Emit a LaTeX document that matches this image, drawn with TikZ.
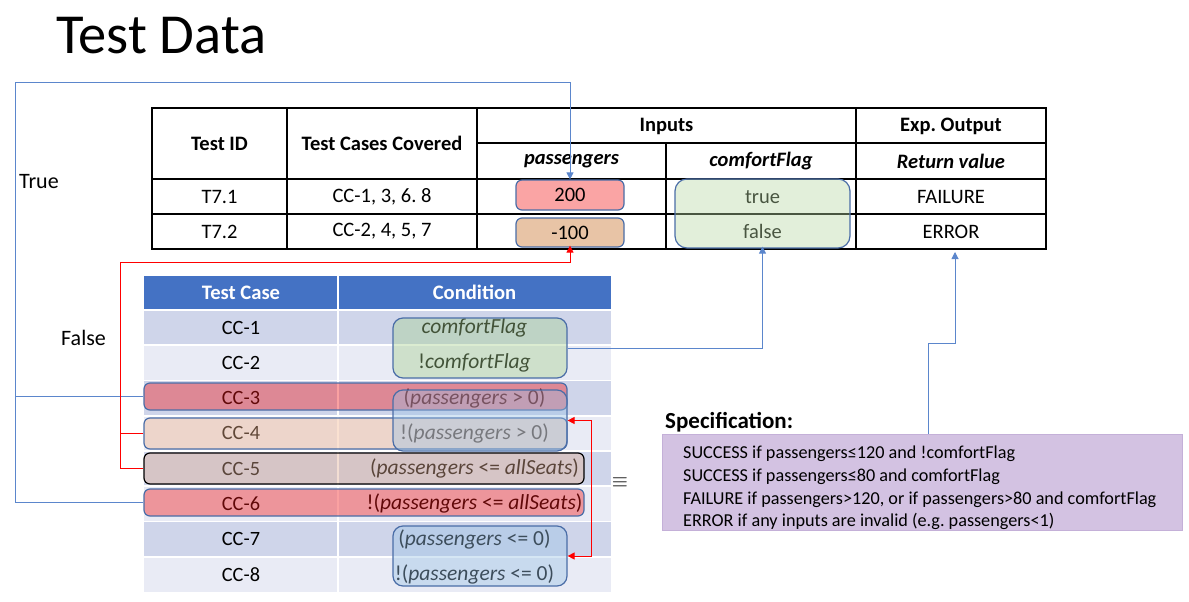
\documentclass[tikz,border=0pt]{standalone}
\usepackage{fontspec}
\setmainfont{Carlito}
\usetikzlibrary{arrows.meta}
\definecolor{hdrblue}{HTML}{4472C4}
\definecolor{rowdark}{HTML}{CFD5EA}
\definecolor{rowlight}{HTML}{E9EBF5}
\definecolor{edgeblue}{HTML}{4A6DA7}
\definecolor{connblue}{HTML}{5B86CC}
\definecolor{pinkin}{HTML}{FAA4A4}
\definecolor{tanin}{HTML}{E8C4A6}
\definecolor{greenov}{HTML}{A6D08E}
\definecolor{greentop}{HTML}{B7D7A3}
\definecolor{redov}{HTML}{F41616}
\definecolor{peachov}{HTML}{F3B48C}
\definecolor{brownov}{HTML}{E2AE92}
\definecolor{blueov}{HTML}{98C1E5}
\definecolor{specfill}{HTML}{D3C2E2}
\definecolor{specedge}{HTML}{C4B0D8}
\definecolor{redline}{HTML}{FF0000}
\newcommand\fsz[2]{\fontsize{#1}{#2}\selectfont}
\frenchspacing
\begin{document}
\begin{tikzpicture}[x=1pt,y=-1pt,
  tbl/.style={line width=1.3pt, draw=black},
  txt/.style={inner sep=0, font=\fsz{20.5}{24}},
  btxt/.style={inner sep=0, font=\fsz{20.5}{24}\bfseries},
  ctxt/.style={inner sep=0, font=\fsz{20.3}{24}},
  condtxt/.style={inner sep=0, font=\fsz{21.5}{24}},
  hdr/.style={inner sep=0, font=\fsz{20.6}{24}\bfseries, text=white},
  valbox/.style={draw=edgeblue, line width=1.2pt, rounded corners=6pt, inner sep=0, font=\fsz{20.5}{24}},
  ovl/.style={draw=edgeblue, line width=1.2pt, rounded corners=6pt, fill opacity=0.4, inner sep=0},
  conn/.style={draw=connblue, line width=1pt},
  redconn/.style={draw=redline, line width=1pt},
  arrowend/.style={-{Triangle[width=7pt,length=7pt]}},
  side/.style={inner sep=0, font=\fsz{22}{26}, anchor=west}
]
\useasboundingbox (0,0) rectangle (1189,602);

% title
\node[inner sep=0, anchor=base west, font=\fsz{56.5}{60}] (title) at (56,54) {Test Data};

% ---------- top table ----------
\node[btxt] (hID) at (219.5,143.5) {Test ID};
\node[btxt] (hTCC) at (382,143.5) {Test Cases Covered};
\node[btxt] (hIn) at (666.5,126) {Inputs};
\node[btxt] (hOut) at (951,126) {Exp. Output};
\node[btxt] (hP) at (571.5,161) {\textit{passengers}};
\node[btxt] (hCF) at (761,161) {\textit{comfortFlag}};
\node[btxt] (hRV) at (951,161) {\textit{Return value}};

\node[txt] (id1) at (219.5,197) {T7.1};
\node[txt] (cov1) at (382,197) {CC-1, 3, 6. 8};
\node[txt] (tru) at (762.5,197) {true};
\node[txt] (out1) at (951,197) {FAILURE};
\node[txt] (id2) at (219.5,231.5) {T7.2};
\node[txt] (cov2) at (382,231.5) {CC-2, 4, 5, 7};
\node[txt] (fal) at (762.5,231.5) {false};
\node[txt] (out2) at (951,231.5) {ERROR};

\draw[tbl] (152,108) rectangle (1046,249);
\draw[tbl] (477,143) -- (1046,143);
\draw[tbl] (152,179) -- (1046,179);
\draw[tbl] (152,214) -- (1046,214);
\draw[tbl] (287,108) -- (287,249);
\draw[tbl] (477,108) -- (477,249);
\draw[tbl] (856,108) -- (856,249);
\draw[tbl] (666,143) -- (666,249);

\node[valbox, fill=pinkin, minimum width=108, minimum height=30] (v200) at (570,195) {200};
\node[valbox, fill=tanin, minimum width=108, minimum height=29] (vm100) at (570,232.5) {-100};
\node[ovl, fill=greentop, rounded corners=12pt, minimum width=175, minimum height=69] (gtop) at (762.5,213.5) {};

% ---------- bottom table ----------
\fill[hdrblue] (144,276) rectangle (611,309);
\foreach \i in {1,...,8}{
  \pgfmathsetmacro{\ya}{310+35.25*(\i-1)}
  \pgfmathsetmacro{\yb}{\ya+35.25}
  \ifodd\i \def\rc{rowdark}\else\def\rc{rowlight}\fi
  \fill[\rc] (144,\ya) rectangle (611,\yb);
}
\foreach \i in {1,...,8}{
  \pgfmathsetmacro{\ya}{310+35.25*(\i-1)}
  \draw[white, line width=1.6pt] (144,\ya) -- (611,\ya);
}
\draw[white, line width=1.6pt] (338,276) -- (338,592);

\node[hdr] (hTC) at (241,292.5) {Test Case};
\node[hdr] (hCond) at (474.5,292.5) {Condition};

\node[ctxt] (tc1) at (241,327.6) {CC-1};
\node[ctxt] (tc2) at (241,362.9) {CC-2};
\node[ctxt] (tc3) at (241,398.1) {CC-3};
\node[ctxt] (tc4) at (241,433.4) {CC-4};
\node[ctxt] (tc5) at (241,468.6) {CC-5};
\node[ctxt] (tc6) at (241,503.9) {CC-6};
\node[ctxt] (tc7) at (241,539.1) {CC-7};
\node[ctxt] (tc8) at (241,574.4) {CC-8};

\node[condtxt] (cd1) at (474.5,327.6) {\textit{comfortFlag}};
\node[condtxt] (cd2) at (474.5,362.9) {!\textit{comfortFlag}};
\node[condtxt] (cd3) at (474.5,398.1) {(\textit{passengers} > 0)};
\node[condtxt] (cd4) at (474.5,433.4) {!(\textit{passengers} > 0)};
\node[condtxt] (cd5) at (474.5,468.6) {(\textit{passengers} <= \textit{allSeats})};
\node[condtxt] (cd6) at (474.5,503.9) {!(\textit{passengers} <= \textit{allSeats})};
\node[condtxt] (cd7) at (474.5,539.1) {(\textit{passengers} <= 0)};
\node[condtxt] (cd8) at (474.5,574.4) {!(\textit{passengers} <= 0)};

% overlays
\node[ovl, fill=redov, minimum width=423, minimum height=27] (cc3) at (355.5,396.5) {};
\node[ovl, fill=peachov, minimum width=423, minimum height=31] (cc4) at (355.5,433.5) {};
\node[ovl, fill=brownov, draw=black, minimum width=440, minimum height=31] (cc5) at (364,468.5) {};
\node[ovl, fill=redov, minimum width=440, minimum height=27] (cc6) at (364,502.5) {};
\node[ovl, fill=greenov, rounded corners=10pt, minimum width=174, minimum height=60] (gbox) at (480,348) {};
\node[ovl, fill=blueov, rounded corners=10pt, minimum width=174, minimum height=61] (pb) at (480,420.5) {};
\node[ovl, fill=blueov, rounded corners=10pt, minimum width=174, minimum height=60] (pc) at (480,556) {};

\node[inner sep=0, font=\fsz{22}{26}] (eqv) at (620,483) {$\equiv$};

% side labels
\node[side] (ltrue) at (19,182) {True};
\node[side] (lfalse) at (61,338) {False};

% specification
\node[inner sep=0, anchor=base west, font=\fsz{23}{27}\bfseries] (spechd) at (665,428) {Specification:};
\node[draw=specedge, fill=specfill, line width=0.8pt, minimum width=520, minimum height=96,
      inner sep=0] (spec) at (922,482) {};
\node[anchor=west, align=left, inner sep=0, font=\fsz{18.2}{22.7}] (spectext) at (683,488)
  {SUCCESS if passengers≤120 and !comfortFlag\\
   SUCCESS if passengers≤80 and comfortFlag\\
   FAILURE if passengers>120, or if passengers>80 and comfortFlag\\
   ERROR if any inputs are invalid (e.g. passengers<1)};

% ---------- connectors ----------
\coordinate (tl) at (15,83);
\draw[conn] (cc3.west) -- (cc3.west -| tl);
\draw[conn, arrowend] (cc6.west) -- (cc6.west -| tl) -- (tl) -- (tl -| v200.north) -- (v200.north);

\coordinate (fl) at (120,262);
\draw[redconn] (cc4.west) -- (cc4.west -| fl);
\draw[redconn, arrowend] (cc5.west) -- (cc5.west -| fl) -- (fl) -- (fl -| vm100.south) -- ([yshift=2]vm100.south);

\draw[conn, arrowend] (gbox.east) -| ([yshift=2]gtop.south);

\coordinate (sb) at (955,343);
\coordinate (rv) at (955,252);
\draw[conn, arrowend] ([xshift=6]spec.north) |- (sb) -- (rv);

\draw[redconn, {Triangle[width=7pt,length=7pt]}-{Triangle[width=7pt,length=7pt]}] (pb.east) -- ++(24,0) |- (pc.east);
\end{tikzpicture}
\end{document}
